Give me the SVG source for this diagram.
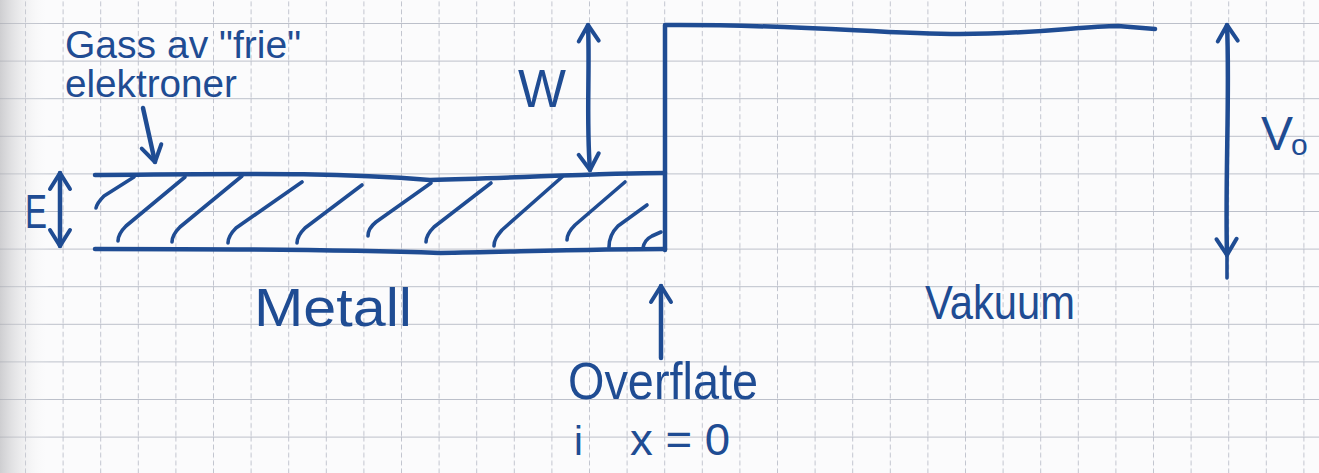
<svg xmlns="http://www.w3.org/2000/svg" width="1319" height="473" viewBox="0 0 1319 473">
  <defs>
    <pattern id="grid" patternUnits="userSpaceOnUse" x="25" y="23" width="37.6" height="37.6">
      <path d="M0,0 V37.6" stroke="#bcc0ca" stroke-width="1.8" stroke-dasharray="5 3" fill="none"/>
      <path d="M0,0 H37.6" stroke="#bcc0ca" stroke-width="1.8" fill="none"/>
    </pattern>
    <linearGradient id="edge" x1="0" y1="0" x2="1" y2="0">
      <stop offset="0" stop-color="#b0b0b4" stop-opacity="0.6"/>
      <stop offset="1" stop-color="#ffffff" stop-opacity="0"/>
    </linearGradient>
    <marker id="head" markerUnits="userSpaceOnUse" viewBox="0 0 22 26" refX="19" refY="13" markerWidth="22" markerHeight="26" orient="auto-start-reverse">
      <path d="M3,3 L19,13 L3,23" fill="none" stroke="#1f4c93" stroke-width="4" stroke-linecap="round" stroke-linejoin="round"/>
    </marker>
    <style>
      .ink { fill: none; stroke: #1f4c93; stroke-width: 4.5; stroke-linecap: round; stroke-linejoin: round; }
      .thin { fill: none; stroke: #1f4c93; stroke-width: 3.6; stroke-linecap: round; stroke-linejoin: round; }
      .lbl { fill: #1f4c93; font-family: "Liberation Sans", "DejaVu Sans", sans-serif; }
    </style>
  </defs>

  <rect width="1319" height="473" fill="#fbfbfc"/>
  <rect width="1319" height="473" fill="url(#grid)"/>
  <rect width="50" height="473" fill="url(#edge)"/>

  <g id="potential">
    <path class="ink" d="M665,250 V25 C800,24 880,34 960,34 C1040,34 1080,26 1118,26 L1155,29"/>
  </g>

  <g id="electron-band">
    <path class="ink" d="M95,175 C250,174 330,172 430,180 C520,178 600,173 665,173"/>
    <path class="ink" d="M95,249 C250,249 350,250 440,253 C540,251 600,249 665,249"/>
    <g class="thin">
      <path d="M96,208 C97,203 100,200 104,196 L134,177"/>
      <path d="M118,241 C118,235 121,231 126,226 L185,177"/>
      <path d="M172,242 C172,236 175,232 180,227 L242,176"/>
      <path d="M228,243 C228,237 231,233 236,228 L302,182"/>
      <path d="M297,243 C297,237 300,233 305,228 L362,185"/>
      <path d="M368,236 C368,230 371,226 376,222 L431,183"/>
      <path d="M426,242 C426,236 429,232 434,227 L491,183"/>
      <path d="M494,246 C494,240 497,236 502,230 L562,177"/>
      <path d="M567,240 C567,234 570,230 575,225 L625,182"/>
      <path d="M609,247 C609,238 612,232 618,226 L647,205"/>
      <path d="M643,248 C644,242 648,238 652,236 L661,232"/>
    </g>
  </g>

  <g id="connectors">
    <path class="ink" d="M60,173 V246" marker-start="url(#head)" marker-end="url(#head)"/>
    <path class="ink" d="M588,25 C590,70 586,120 590,170" marker-start="url(#head)" marker-end="url(#head)"/>
    <path class="ink" d="M1227,25 C1230,90 1225,180 1227,255" marker-start="url(#head)" marker-end="url(#head)"/>
    <path class="thin" d="M1227,255 V278"/>
    <path class="ink" d="M143,108 L155,162" marker-end="url(#head)"/>
    <path class="ink" d="M661,358 V286" marker-end="url(#head)"/>
  </g>

  <g id="label-gas">
    <text class="lbl" x="65" y="58" font-size="38" textLength="236" lengthAdjust="spacingAndGlyphs">Gass av "frie"</text>
    <text class="lbl" x="65" y="97" font-size="38" textLength="172" lengthAdjust="spacingAndGlyphs">elektroner</text>
  </g>
  <g id="label-E">
    <text class="lbl" x="25" y="228" font-size="48" textLength="22" lengthAdjust="spacingAndGlyphs">E</text>
  </g>
  <g id="label-W">
    <text class="lbl" x="518" y="107" font-size="53" textLength="48" lengthAdjust="spacingAndGlyphs">W</text>
  </g>
  <g id="label-V0">
    <text class="lbl" x="1261" y="150" font-size="48" textLength="32" lengthAdjust="spacingAndGlyphs">V</text>
    <text class="lbl" x="1291" y="155" font-size="30">o</text>
  </g>
  <g id="label-metall">
    <text class="lbl" x="254" y="326" font-size="54" textLength="158" lengthAdjust="spacingAndGlyphs">Metall</text>
  </g>
  <g id="label-vakuum">
    <text class="lbl" x="925" y="319" font-size="48" textLength="150" lengthAdjust="spacingAndGlyphs">Vakuum</text>
  </g>
  <g id="label-overflate">
    <text class="lbl" x="568" y="399" font-size="52" textLength="190" lengthAdjust="spacingAndGlyphs">Overflate</text>
    <text class="lbl" x="574" y="455" font-size="40">i</text>
    <text class="lbl" x="630" y="455" font-size="44" textLength="100" lengthAdjust="spacingAndGlyphs">x = 0</text>
  </g>
</svg>
